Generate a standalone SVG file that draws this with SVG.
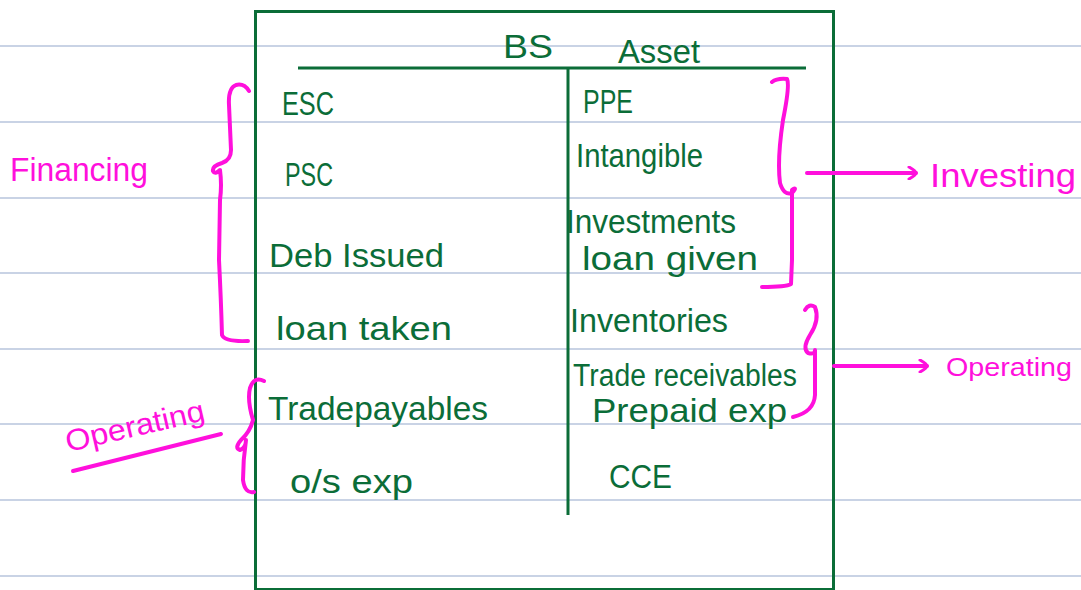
<svg xmlns="http://www.w3.org/2000/svg" width="1081" height="590" viewBox="0 0 1081 590">
<defs>
<style>
.rule{stroke:#b7c5dd;stroke-width:1.5}
.g{fill:#0b6d38;font-family:"Liberation Sans","DejaVu Sans",sans-serif;font-size:34px}
.m{fill:#ff10dc;font-family:"Liberation Sans","DejaVu Sans",sans-serif;font-size:34px}
.gl{stroke:#0b6d38;stroke-width:3;fill:none}
.ml{stroke:#ff10dc;stroke-width:4;fill:none;stroke-linecap:round;stroke-linejoin:round}
</style>
<marker id="arr" markerWidth="14" markerHeight="14" refX="10" refY="7" orient="auto" markerUnits="userSpaceOnUse">
<path d="M3,1 Q10,5 10,7 Q10,9 3,13" fill="none" stroke="#ff10dc" stroke-width="3" stroke-linecap="round"/>
</marker>
</defs>
<rect width="1081" height="590" fill="#ffffff"/>
<g id="ruled">
<line class="rule" x1="0" y1="46" x2="1081" y2="46"/>
<line class="rule" x1="0" y1="122" x2="1081" y2="122"/>
<line class="rule" x1="0" y1="198" x2="1081" y2="198"/>
<line class="rule" x1="0" y1="273" x2="1081" y2="273"/>
<line class="rule" x1="0" y1="349" x2="1081" y2="349"/>
<line class="rule" x1="0" y1="424" x2="1081" y2="424"/>
<line class="rule" x1="0" y1="500" x2="1081" y2="500"/>
<line class="rule" x1="0" y1="576" x2="1081" y2="576"/>
</g>
<g id="table">
<rect class="gl" x="255.5" y="11.5" width="578" height="578"/>
<line class="gl" x1="298" y1="68" x2="806" y2="68"/>
<line class="gl" x1="568" y1="68" x2="568" y2="515"/>
<text class="g" x="503" y="58" textLength="50" lengthAdjust="spacingAndGlyphs">BS</text>
<text class="g" x="618" y="63" textLength="82" lengthAdjust="spacingAndGlyphs">Asset</text>
</g>
<g id="liabilities">
<text class="g" x="282" y="115" textLength="52" lengthAdjust="spacingAndGlyphs">ESC</text>
<text class="g" x="285" y="186" textLength="48" lengthAdjust="spacingAndGlyphs">PSC</text>
<text class="g" x="269" y="267" textLength="175" lengthAdjust="spacingAndGlyphs">Deb Issued</text>
<text class="g" x="276" y="340" textLength="176" lengthAdjust="spacingAndGlyphs">loan taken</text>
<text class="g" x="268" y="420" textLength="220" lengthAdjust="spacingAndGlyphs">Tradepayables</text>
<text class="g" x="290" y="493" textLength="123" lengthAdjust="spacingAndGlyphs">o/s exp</text>
</g>
<g id="assets">
<text class="g" x="583" y="113" textLength="50" lengthAdjust="spacingAndGlyphs">PPE</text>
<text class="g" x="576" y="167" textLength="127" lengthAdjust="spacingAndGlyphs">Intangible</text>
<text class="g" x="566" y="233" textLength="170" lengthAdjust="spacingAndGlyphs">Investments</text>
<text class="g" x="582" y="270" textLength="176" lengthAdjust="spacingAndGlyphs">loan given</text>
<text class="g" x="570" y="332" textLength="158" lengthAdjust="spacingAndGlyphs">Inventories</text>
<text class="g" x="573" y="386" style="font-size:31px" textLength="224" lengthAdjust="spacingAndGlyphs">Trade receivables</text>
<text class="g" x="592" y="422" textLength="195" lengthAdjust="spacingAndGlyphs">Prepaid exp</text>
<text class="g" x="609" y="488" textLength="63" lengthAdjust="spacingAndGlyphs">CCE</text>
</g>
<g id="financing">
<path class="ml" d="M249,91 Q244,83 236,85 Q228,88 229,105 L231,150 Q231,160 222,163 Q212,166 213,171 Q215,175 220,170 Q222,185 220,200 L219,260 Q221,300 222,335 Q225,342 248,341"/>
<text class="m" x="10" y="181" textLength="138" lengthAdjust="spacingAndGlyphs">Financing</text>
</g>
<g id="operating-left">
<path class="ml" d="M264,381 Q254,376 250,388 Q247,400 253,420 Q250,432 241,440 Q234,448 240,450 Q246,448 246,440 Q243,460 243,480 Q245,494 254,492"/>
<text class="m" x="68" y="452" style="font-size:30px" textLength="142" lengthAdjust="spacingAndGlyphs" transform="rotate(-13 68 452)">Operating</text>
<line class="ml" x1="73" y1="471" x2="221" y2="434" stroke-width="3"/>
</g>
<g id="investing">
<path class="ml" d="M772,82 Q777,78 787,79 Q790,85 783,120 Q777,160 780,183 Q784,196 792,193 Q798,186 792,190 L792,260 L791,284 Q786,287 762,287"/>
<text class="m" x="930" y="187" textLength="146" lengthAdjust="spacingAndGlyphs">Investing</text>
</g>
<g id="operating-right">
<path class="ml" d="M805,310 Q809,303 815,307 Q820,320 810,335 Q802,348 808,353 Q815,355 815,350 L815,395 Q814,412 793,417"/>
<text class="m" x="946" y="376" style="font-size:25px" textLength="126" lengthAdjust="spacingAndGlyphs">Operating</text>
</g>
<g id="connectors">
<line class="ml" x1="807" y1="173" x2="916" y2="173" stroke-width="3" marker-end="url(#arr)"/>
<line class="ml" x1="834" y1="366" x2="927" y2="366" stroke-width="3" marker-end="url(#arr)"/>
</g>
</svg>
